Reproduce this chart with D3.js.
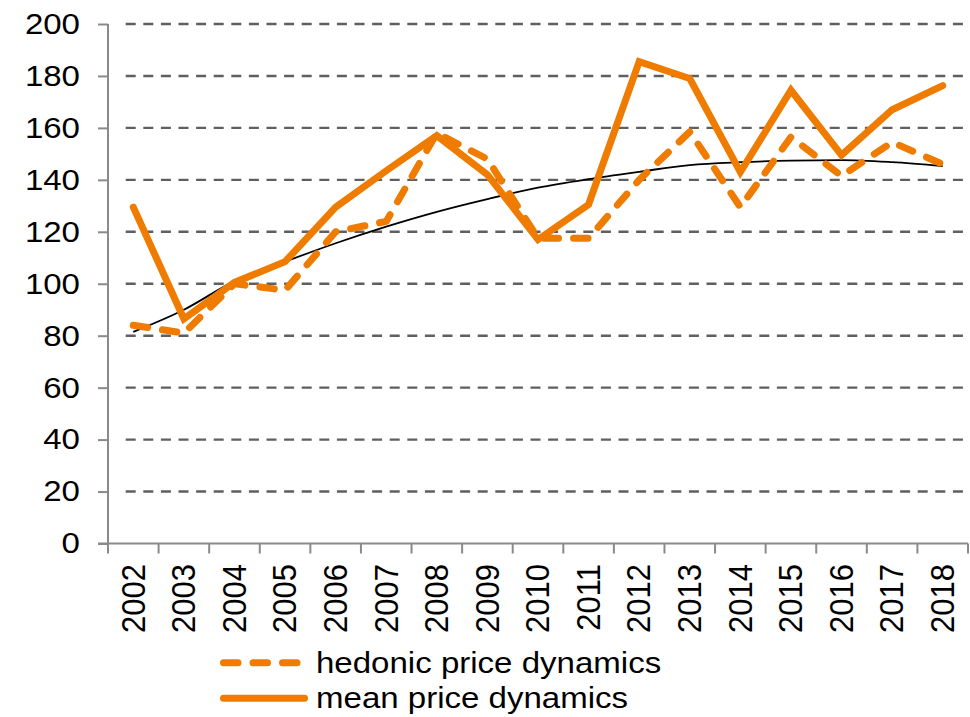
<!DOCTYPE html>
<html>
<head>
<meta charset="utf-8">
<script src="https://cdn.jsdelivr.net/npm/d3@7"></script>
<style>
  html, body { margin: 0; padding: 0; background: #fff; }
  svg { display: block; }
  text { font-family: "Liberation Sans", Arial, sans-serif; fill: #000; }
</style>
</head>
<body>
<svg id="chart" width="970" height="717"></svg>
<script>
const years = ["2002","2003","2004","2005","2006","2007","2008","2009","2010","2011","2012","2013","2014","2015","2016","2017","2018"];
const hedonic = [84, 81, 100, 97.5, 120, 124, 158, 148, 117.5, 117.5, 140, 158.5, 129.5, 156.5, 141.5, 154.5, 146];
const mean    = [129.5, 86.5, 100.5, 108.5, 129.5, 143.5, 157, 142, 117, 130.5, 185.5, 179, 143, 174.5, 149.5, 167, 176.3];
const trend   = [81.5, 90, 101, 108.5, 115.6, 122, 127.7, 132.6, 137, 140.3, 143.1, 145.7, 146.8, 147.4, 147.6, 146.8, 145.3];
const yTicks  = [0, 20, 40, 60, 80, 100, 120, 140, 160, 180, 200];
const legendLabels = ["hedonic price dynamics", "mean price dynamics"];

(function () {
const svg = d3.select("#chart");
const mLeft = 108, mRight = 968, mTop = 24, mBottom = 543.5;
const orange = "#EF7B00";

const x = d3.scaleBand().domain(years).range([mLeft, mRight]).paddingInner(0).paddingOuter(0);
const y = d3.scaleLinear().domain([0, 200]).range([mBottom, mTop]);
const cx = d => x(d) + x.bandwidth() / 2;

// grid lines
svg.append("g").selectAll("line").data(yTicks.filter(v => v > 0)).join("line")
  .attr("x1", mLeft + 17.7).attr("x2", mRight)
  .attr("y1", d => y(d)).attr("y2", d => y(d))
  .attr("stroke", "#5f5f5f").attr("stroke-width", 2.4)
  .attr("stroke-dasharray", "10,7.6");

// y axis
const yAxis = svg.append("g").attr("transform", `translate(${mLeft},0)`)
  .call(d3.axisLeft(y).tickValues(yTicks).tickSize(10).tickFormat(""));
yAxis.selectAll("path, line").attr("stroke", "#8a8a8a").attr("stroke-width", 2);
yAxis.select(".domain").attr("d", `M0,${mBottom}V${mTop}`);

// x axis
const xAxis = svg.append("g").attr("transform", `translate(0,${mBottom})`)
  .call(d3.axisBottom(x).tickSize(0).tickFormat(""));
xAxis.selectAll(".tick").remove();
xAxis.select(".domain").attr("d", `M${mLeft - 10},0H${mRight}`).attr("stroke", "#8a8a8a").attr("stroke-width", 2);
const bounds = years.map(d => x(d)).concat([mRight]);
svg.append("g").selectAll("line").data(bounds).join("line")
  .attr("x1", d => d).attr("x2", d => d)
  .attr("y1", mBottom).attr("y2", mBottom + 10)
  .attr("stroke", "#8a8a8a").attr("stroke-width", 2);

// y tick labels
svg.append("g").selectAll("text").data(yTicks).join("text")
  .attr("transform", d => `translate(80,${y(d)}) scale(1.12,1)`)
  .attr("text-anchor", "end").attr("dominant-baseline", "central")
  .style("font-size", "29.5px")
  .text(d => d);

// x tick labels
svg.append("g").selectAll("text").data(years).join("text")
  .attr("transform", d => `translate(${cx(d)},564) scale(1.05,1) rotate(-90)`)
  .attr("text-anchor", "end").attr("dominant-baseline", "central")
  .style("font-size", "31px")
  .text(d => d);

const line = d3.line().x((d, i) => cx(years[i])).y(d => y(d));

// trend line
svg.append("path").datum(trend)
  .attr("fill", "none").attr("stroke", "#000").attr("stroke-width", 1.8)
  .attr("d", line.curve(d3.curveMonotoneX)(trend));
line.curve(d3.curveLinear);

svg.append("path").datum(hedonic)
  .attr("fill", "none").attr("stroke", orange).attr("stroke-width", 7)
  .attr("stroke-dasharray", "14.5,15").attr("stroke-linecap", "round").attr("stroke-linejoin", "round")
  .attr("d", line);

svg.append("path").datum(mean)
  .attr("fill", "none").attr("stroke", orange).attr("stroke-width", 7)
  .attr("stroke-linejoin", "miter").attr("stroke-linecap", "round")
  .attr("d", line);

// legend
const lg = svg.append("g");
lg.append("line").attr("x1", 223.5).attr("x2", 297.5).attr("y1", 662.7).attr("y2", 662.7)
  .attr("stroke", orange).attr("stroke-width", 7).attr("stroke-linecap", "round")
  .attr("stroke-dasharray", "14.5,15");
lg.append("line").attr("x1", 223.5).attr("x2", 304.5).attr("y1", 698.3).attr("y2", 698.3)
  .attr("stroke", orange).attr("stroke-width", 7).attr("stroke-linecap", "round");
lg.selectAll("text").data(legendLabels).join("text")
  .attr("transform", (d, i) => `translate(316,${i === 0 ? 662.7 : 698.3}) scale(1.12,1)`)
  .attr("dominant-baseline", "central")
  .style("font-size", "29.5px")
  .text(d => d);
})();
</script>
</body>
</html>
